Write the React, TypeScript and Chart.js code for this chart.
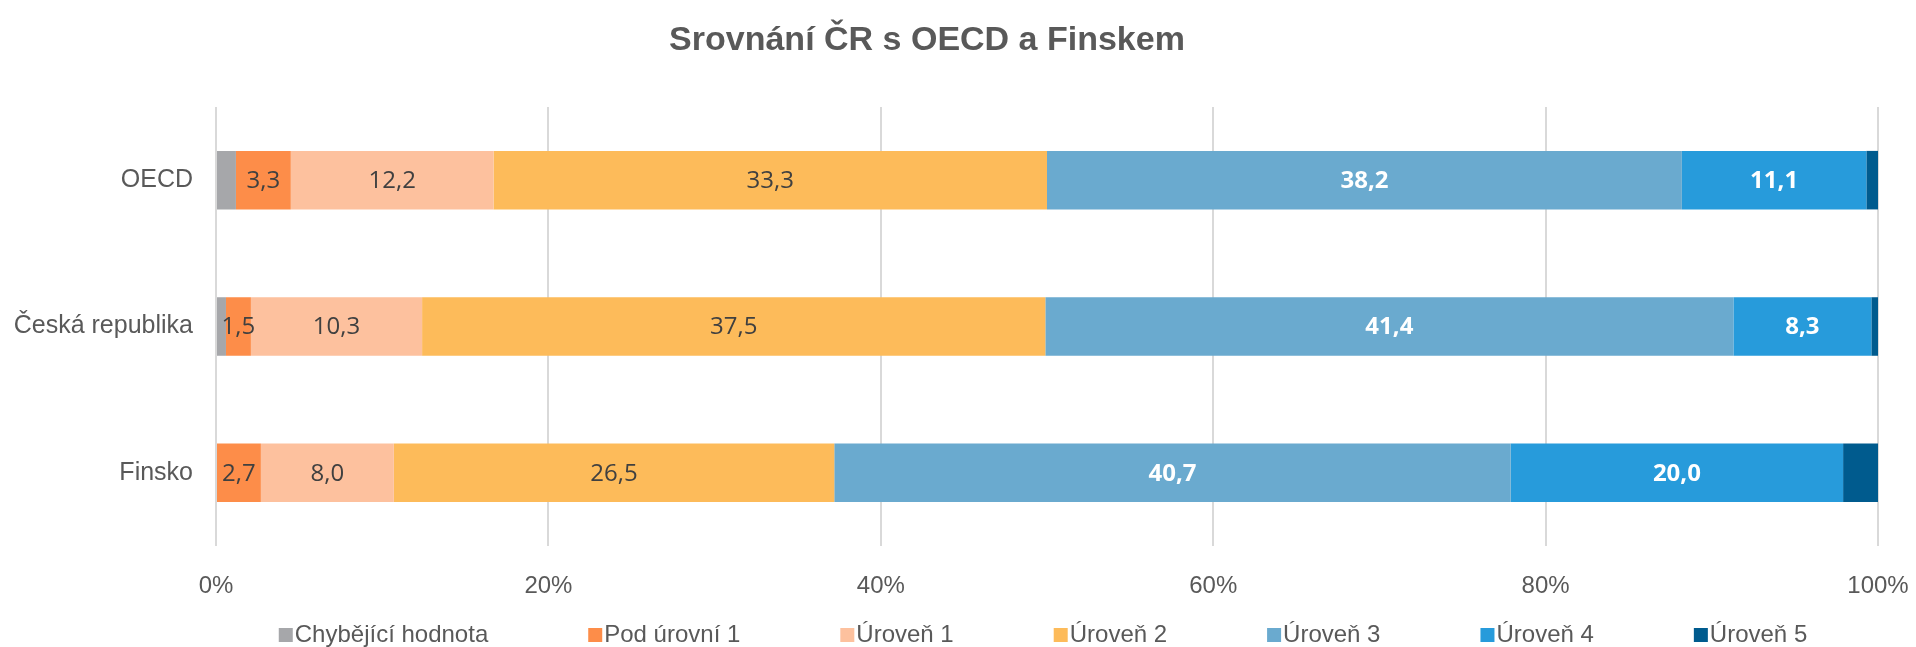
import React, { useEffect, useRef } from "react";
import { Chart, registerables } from "chart.js";

Chart.register(...registerables);

const TITLE = "Srovnání ČR s OECD a Finskem";
const categories = ["OECD", "Česká republika", "Finsko"];
const seriesNames = [
  "Chybějící hodnota",
  "Pod úrovní 1",
  "Úroveň 1",
  "Úroveň 2",
  "Úroveň 3",
  "Úroveň 4",
  "Úroveň 5",
];
const missing = [1.2, 0.6, 0.0];
const below1 = [3.3, 1.5, 2.7];
const level1 = [12.2, 10.3, 8.0];
const level2 = [33.3, 37.5, 26.5];
const level3 = [38.2, 41.4, 40.7];
const level4 = [11.1, 8.3, 20.0];
const level5 = [0.7, 0.4, 2.1];
const xTicks = [0, 20, 40, 60, 80, 100];

const seriesValues = [missing, below1, level1, level2, level3, level4, level5];
const colors = ["#a6a7aa", "#fd8d49", "#fdc19e", "#fdbb5a", "#6aaacf", "#279bdb", "#005b8e"];
const labelled = [false, true, true, true, true, true, false];
const labelWhite = [false, false, false, false, true, true, false];

const fmt = (v: number) => v.toFixed(1).replace(".", ",");

const dataLabelPlugin = {
  id: "dataLabels",
  afterDatasetsDraw(chart: any) {
    const ctx = chart.ctx;
    ctx.save();
    ctx.textAlign = "center";
    ctx.textBaseline = "middle";
    chart.data.datasets.forEach((ds: any, i: number) => {
      if (!labelled[i]) return;
      const meta = chart.getDatasetMeta(i);
      meta.data.forEach((bar: any, j: number) => {
        const p = bar.getCenterPoint();
        if (labelWhite[i]) {
          ctx.fillStyle = "#ffffff";
          ctx.font = 'bold 24px "Open Sans"';
        } else {
          ctx.fillStyle = "#404040";
          ctx.font = '24px "Open Sans"';
        }
        ctx.fillText(fmt(ds.data[j]), p.x, p.y + 1);
      });
    });
    ctx.restore();
  },
};

const titleLegendPlugin = {
  id: "titleLegend",
  afterDraw(chart: any) {
    const ctx = chart.ctx;
    ctx.save();
    // title
    ctx.fillStyle = "#595959";
    ctx.font = 'bold 34px "Liberation Sans"';
    ctx.textAlign = "center";
    ctx.textBaseline = "alphabetic";
    ctx.fillText(TITLE, 927, 50);
    // legend
    ctx.font = '24px "Liberation Sans"';
    const box = 14;
    const gapText = 2;
    const gapItem = 100;
    const widths = chart.data.datasets.map(
      (ds: any) => box + gapText + ctx.measureText(ds.label).width
    );
    const total = widths.reduce((a: number, b: number) => a + b, 0) + gapItem * (widths.length - 1);
    let x = 1043 - total / 2;
    const baseline = 642;
    ctx.textAlign = "left";
    chart.data.datasets.forEach((ds: any, i: number) => {
      ctx.fillStyle = ds.backgroundColor;
      ctx.fillRect(x, 628, box, box);
      ctx.fillStyle = "#595959";
      ctx.fillText(ds.label, x + box + gapText, baseline);
      x += widths[i] + gapItem;
    });
    ctx.restore();
  },
};

export default function App() {
  const ref = useRef<HTMLCanvasElement | null>(null);
  useEffect(() => {
    if (!ref.current) return;
    const chart = new Chart(ref.current, {
      type: "bar",
      data: {
        labels: categories,
        datasets: seriesNames.map((name, i) => ({
          label: name,
          data: seriesValues[i],
          backgroundColor: colors[i],
          borderWidth: 0,
          barPercentage: 0.4,
          categoryPercentage: 1.0,
        })),
      },
      options: {
        indexAxis: "y",
        responsive: false,
        animation: false,
        devicePixelRatio: 1,
        layout: { padding: { top: 107, right: 38, left: 0, bottom: 0 } },
        plugins: {
          legend: { display: false },
          title: { display: false },
          tooltip: { enabled: false },
        },
        scales: {
          x: {
            stacked: true,
            min: 0,
            max: 100,
            afterBuildTicks: (s: any) => {
              s.ticks = xTicks.map((v) => ({ value: v }));
            },
            ticks: {
              callback: (v: any) => v + "%",
              color: "#595959",
              font: { family: "Liberation Sans", size: 24 },
              padding: 26,
              maxRotation: 0,
            },
            grid: { color: "#d9d9d9", lineWidth: 2, drawTicks: false },
            border: { display: false },
            afterFit: (s: any) => {
              s.height = 101;
              s.paddingLeft = 0;
              s.paddingRight = 0;
            },
          },
          y: {
            stacked: true,
            ticks: {
              color: "#595959",
              font: { family: "Liberation Sans", size: 25 },
              padding: 23,
            },
            grid: { display: false, drawTicks: false },
            border: { display: false },
            afterFit: (s: any) => {
              s.width = 216;
            },
          },
        },
      } as any,
      plugins: [dataLabelPlugin, titleLegendPlugin],
    });
    return () => chart.destroy();
  }, []);
  return (
    <div style={{ position: "fixed", left: 0, top: 0, width: 1916, height: 647, background: "#fff" }}>
      <canvas ref={ref} width={1916} height={647} style={{ display: "block", width: 1916, height: 647 }} />
    </div>
  );
}
